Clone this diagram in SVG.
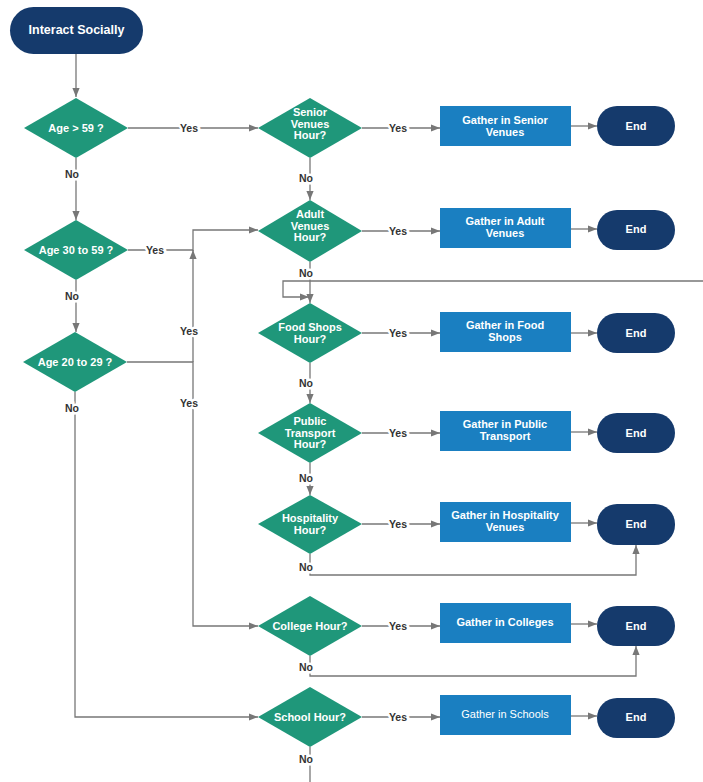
<svg xmlns="http://www.w3.org/2000/svg" width="703" height="782" viewBox="0 0 703 782">
<defs>
<marker id="arr" viewBox="0 0 10 10" refX="10" refY="5" markerWidth="9" markerHeight="9" markerUnits="userSpaceOnUse" orient="auto">
<path d="M0,1 L10,5 L0,9 z" fill="#777"/>
</marker>
</defs>
<style>
.bg{fill:#ffffff}
.dia{fill:#1f977a}
.box{fill:#1a7fc1}
.pill{fill:#153a6c}
.nt{font-family:"Liberation Sans",Arial,sans-serif;font-size:11px;font-weight:bold;fill:#ffffff;text-anchor:middle}
.con{fill:none;stroke:#777;stroke-width:1.3}
.lbl{font-family:"Liberation Sans",Arial,sans-serif;font-size:10.5px;font-weight:bold;fill:#333;text-anchor:middle;paint-order:stroke;stroke:#ffffff;stroke-width:5px}
</style>
<rect class="bg" x="0" y="0" width="703" height="782"/>
<g id="connectors">
<path class="con" d="M76,54 V97" marker-end="url(#arr)"/>
<path class="con" d="M128,128 H258" marker-end="url(#arr)"/>
<path class="con" d="M76,158 V220" marker-end="url(#arr)"/>
<path class="con" d="M128,250 H193"/>
<path class="con" d="M193,362 V250" marker-end="url(#arr)"/>
<path class="con" d="M193,251 V230 H258" marker-end="url(#arr)"/>
<path class="con" d="M76,280 V332" marker-end="url(#arr)"/>
<path class="con" d="M127,362 H193 V626 H258" marker-end="url(#arr)"/>
<path class="con" d="M75,392 V717 H258" marker-end="url(#arr)"/>
<path class="con" d="M310,158 V200" marker-end="url(#arr)"/>
<path class="con" d="M362,128 H440" marker-end="url(#arr)"/>
<path class="con" d="M362,231 H440" marker-end="url(#arr)"/>
<path class="con" d="M362,333 H440" marker-end="url(#arr)"/>
<path class="con" d="M362,433 H440" marker-end="url(#arr)"/>
<path class="con" d="M362,524 H440" marker-end="url(#arr)"/>
<path class="con" d="M362,626 H440" marker-end="url(#arr)"/>
<path class="con" d="M362,717 H440" marker-end="url(#arr)"/>
<path class="con" d="M571,126 H597" marker-end="url(#arr)"/>
<path class="con" d="M571,229 H597" marker-end="url(#arr)"/>
<path class="con" d="M571,333 H597" marker-end="url(#arr)"/>
<path class="con" d="M571,432 H597" marker-end="url(#arr)"/>
<path class="con" d="M571,523 H597" marker-end="url(#arr)"/>
<path class="con" d="M571,624 H597" marker-end="url(#arr)"/>
<path class="con" d="M571,716 H597" marker-end="url(#arr)"/>
<path class="con" d="M310,262 V303" marker-end="url(#arr)"/>
<path class="con" d="M703,281 H283 V297 H309" marker-end="url(#arr)"/>
<path class="con" d="M310,363 V403" marker-end="url(#arr)"/>
<path class="con" d="M310,463 V495" marker-end="url(#arr)"/>
<path class="con" d="M310,554 V575 H636 V545" marker-end="url(#arr)"/>
<path class="con" d="M310,656 V676 H636 V646" marker-end="url(#arr)"/>
<path class="con" d="M310,747 V782"/>
<text class="lbl" x="189" y="132">Yes</text>
<text class="lbl" x="72" y="178">No</text>
<text class="lbl" x="155" y="254">Yes</text>
<text class="lbl" x="72" y="300">No</text>
<text class="lbl" x="189" y="335">Yes</text>
<text class="lbl" x="189" y="407">Yes</text>
<text class="lbl" x="72" y="412">No</text>
<text class="lbl" x="306" y="182">No</text>
<text class="lbl" x="306" y="277">No</text>
<text class="lbl" x="306" y="387">No</text>
<text class="lbl" x="306" y="482">No</text>
<text class="lbl" x="306" y="571">No</text>
<text class="lbl" x="306" y="671">No</text>
<text class="lbl" x="306" y="763">No</text>
<text class="lbl" x="398" y="132">Yes</text>
<text class="lbl" x="398" y="235">Yes</text>
<text class="lbl" x="398" y="337">Yes</text>
<text class="lbl" x="398" y="437">Yes</text>
<text class="lbl" x="398" y="528">Yes</text>
<text class="lbl" x="398" y="630">Yes</text>
<text class="lbl" x="398" y="721">Yes</text>
</g>
<g id="start">
<rect class="pill" x="10" y="7" width="133" height="47" rx="23.5"/>
<text class="nt" x="76.5" y="34" style="font-size:12.5px">Interact Socially</text>
</g>
<g id="age59">
<polygon class="dia" points="76,98 128,128 76,158 24,128"/>
<text class="nt" x="76" y="132">Age &gt; 59 ?</text>
</g>
<g id="age30">
<polygon class="dia" points="76,220 128,250 76,280 24,250"/>
<text class="nt" x="76" y="254">Age 30 to 59 ?</text>
</g>
<g id="age20">
<polygon class="dia" points="75,332 127,362 75,392 23,362"/>
<text class="nt" x="75" y="366">Age 20 to 29 ?</text>
</g>
<g id="senior">
<polygon class="dia" points="310,98 362,128 310,158 258,128"/>
<text class="nt" x="310" y="116">Senior</text>
<text class="nt" x="310" y="127.5">Venues</text>
<text class="nt" x="310" y="139">Hour?</text>
</g>
<g id="adult">
<polygon class="dia" points="310,200 362,231 310,262 258,231"/>
<text class="nt" x="310" y="218">Adult</text>
<text class="nt" x="310" y="229.5">Venues</text>
<text class="nt" x="310" y="241">Hour?</text>
</g>
<g id="food">
<polygon class="dia" points="310,303 362,333 310,363 258,333"/>
<text class="nt" x="310" y="331">Food Shops</text>
<text class="nt" x="310" y="342.5">Hour?</text>
</g>
<g id="transport">
<polygon class="dia" points="310,403 362,433 310,463 258,433"/>
<text class="nt" x="310" y="425">Public</text>
<text class="nt" x="310" y="436.5">Transport</text>
<text class="nt" x="310" y="448">Hour?</text>
</g>
<g id="hospitality">
<polygon class="dia" points="310,495 362,524 310,554 258,524"/>
<text class="nt" x="310" y="522">Hospitality</text>
<text class="nt" x="310" y="533.5">Hour?</text>
</g>
<g id="college">
<polygon class="dia" points="310,596 362,626 310,656 258,626"/>
<text class="nt" x="310" y="630">College Hour?</text>
</g>
<g id="school">
<polygon class="dia" points="310,687 362,717 310,747 258,717"/>
<text class="nt" x="310" y="721">School Hour?</text>
</g>
<g id="box-senior">
<rect class="box" x="440" y="106" width="131" height="40"/>
<text class="nt" x="505" y="124">Gather in Senior</text>
<text class="nt" x="505" y="135.5">Venues</text>
</g>
<g id="box-adult">
<rect class="box" x="440" y="208" width="131" height="40"/>
<text class="nt" x="505" y="225">Gather in Adult</text>
<text class="nt" x="505" y="236.5">Venues</text>
</g>
<g id="box-food">
<rect class="box" x="440" y="312" width="131" height="40"/>
<text class="nt" x="505" y="329">Gather in Food</text>
<text class="nt" x="505" y="340.5">Shops</text>
</g>
<g id="box-transport">
<rect class="box" x="440" y="411" width="131" height="40"/>
<text class="nt" x="505" y="428">Gather in Public</text>
<text class="nt" x="505" y="439.5">Transport</text>
</g>
<g id="box-hospitality">
<rect class="box" x="440" y="502" width="131" height="40"/>
<text class="nt" x="505" y="519">Gather in Hospitality</text>
<text class="nt" x="505" y="530.5">Venues</text>
</g>
<g id="box-college">
<rect class="box" x="440" y="603" width="131" height="40"/>
<text class="nt" x="505" y="626">Gather in Colleges</text>
</g>
<g id="box-school">
<rect class="box" x="440" y="695" width="131" height="40"/>
<text class="nt" x="505" y="718" style="font-weight:normal">Gather in Schools</text>
</g>
<g id="end1"><rect class="pill" x="597" y="106" width="78" height="40" rx="20"/><text class="nt" x="636" y="130">End</text></g>
<g id="end2"><rect class="pill" x="597" y="210" width="78" height="40" rx="20"/><text class="nt" x="636" y="233">End</text></g>
<g id="end3"><rect class="pill" x="597" y="313" width="78" height="40" rx="20"/><text class="nt" x="636" y="337">End</text></g>
<g id="end4"><rect class="pill" x="597" y="413" width="78" height="40" rx="20"/><text class="nt" x="636" y="437">End</text></g>
<g id="end5"><rect class="pill" x="597" y="504" width="78" height="41" rx="20"/><text class="nt" x="636" y="528">End</text></g>
<g id="end6"><rect class="pill" x="597" y="606" width="78" height="40" rx="20"/><text class="nt" x="636" y="630">End</text></g>
<g id="end7"><rect class="pill" x="597" y="698" width="78" height="40" rx="20"/><text class="nt" x="636" y="721">End</text></g>
</svg>
